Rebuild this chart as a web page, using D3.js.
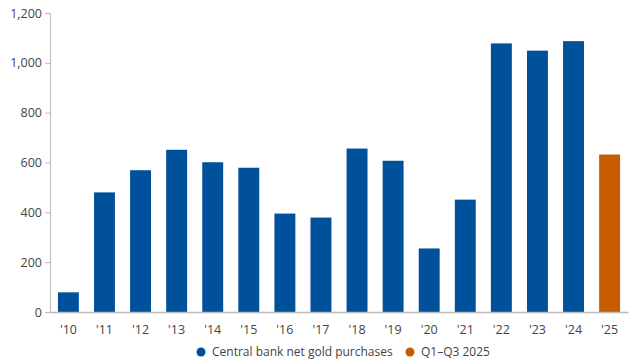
<!DOCTYPE html>
<html>
<head>
<meta charset="utf-8">
<script src="https://cdn.jsdelivr.net/npm/d3@7"></script>
<style>
  body { margin: 0; background: #fff; }
  svg text { font-family: "Open Sans", "DejaVu Sans", sans-serif; fill: #444; }
</style>
</head>
<body>
<div id="chart"></div>
<script>
// years and tonnes
var years = ["'10", "'11", "'12", "'13", "'14", "'15", "'16", "'17", "'18", "'19", "'20", "'21", "'22", "'23", "'24", "'25"];
var tonnes = [79, 480, 569, 651, 601, 579, 395, 379, 656, 607, 255, 451, 1078, 1049, 1087, 632];
var series = ["Central bank net gold purchases", "Q1\u2013Q3 2025"];
var colors = ["#00509b", "#c75b00"];
var yTicks = [0, 200, 400, 600, 800, 1000, 1200];

var W = 639, H = 362;
var margin = { top: 13, right: 11, bottom: 50, left: 50 };

var svg = d3.select("#chart").append("svg")
    .attr("width", W)
    .attr("height", H);

var x = d3.scaleBand()
    .domain(years)
    .range([margin.left, W - margin.right])
    .paddingInner(0.42)
    .paddingOuter(0.22);

var y = d3.scaleLinear()
    .domain([0, 1200])
    .range([H - margin.bottom, margin.top]);

// y axis
var yaxis = svg.append("g")
    .attr("transform", "translate(" + margin.left + ",0)")
    .call(d3.axisLeft(y).tickValues(yTicks).tickFormat(d3.format(",")).tickSize(5).tickPadding(3));
yaxis.select(".domain").attr("stroke", "#bbb");
yaxis.selectAll(".tick line").attr("stroke", "#bbb");
yaxis.selectAll(".tick text").style("font-size", "12.5px").attr("fill", "#444");

// bars
svg.append("g").selectAll("rect")
    .data(tonnes)
    .enter().append("rect")
    .attr("x", function (d, i) { return x(years[i]); })
    .attr("y", function (d) { return y(d); })
    .attr("width", x.bandwidth())
    .attr("height", function (d) { return y(0) - y(d); })
    .attr("fill", function (d, i) { return i == years.length - 1 ? colors[1] : colors[0]; });

// x axis
var xaxis = svg.append("g")
    .attr("transform", "translate(0," + y(0) + ")")
    .call(d3.axisBottom(x).tickSize(0).tickPadding(13));
xaxis.select(".domain").attr("stroke", "#bbb").attr("stroke-width", 1.5);
xaxis.selectAll(".tick text").style("font-size", "12.5px").attr("fill", "#444");

// legend
var legend = svg.append("g").attr("transform", "translate(0,352)");
var lx = [201, 410];
series.forEach(function (s, i) {
    legend.append("circle")
        .attr("cx", lx[i])
        .attr("cy", 0)
        .attr("r", 4.5)
        .attr("fill", colors[i]);
    legend.append("text")
        .attr("x", lx[i] + 11)
        .attr("y", 0)
        .attr("dy", "0.35em")
        .style("font-size", "12px")
        .text(s);
});
</script>
</body>
</html>
